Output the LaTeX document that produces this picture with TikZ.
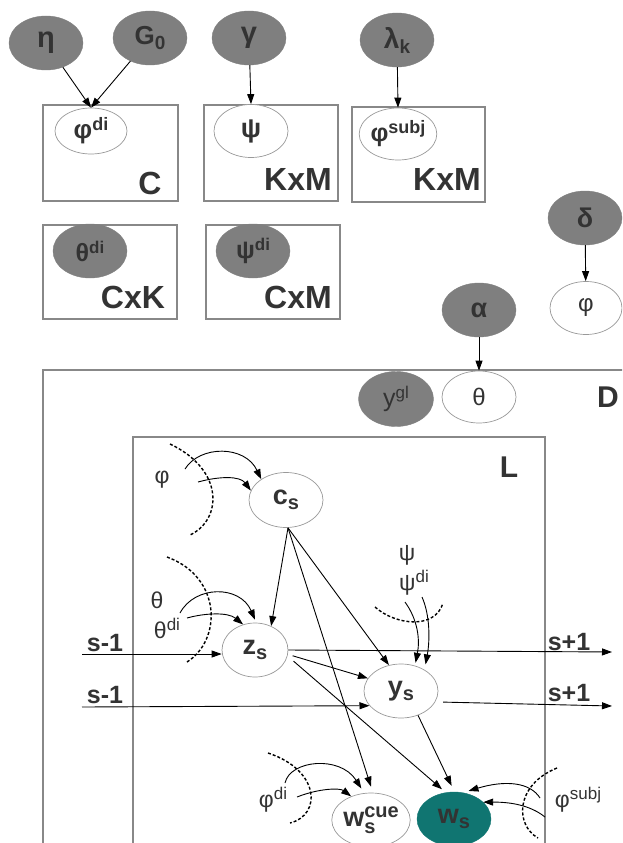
\documentclass[tikz,border=0pt]{standalone}
\usepackage{fontspec}
\setmainfont{Liberation Sans}
\usetikzlibrary{shapes.geometric,arrows.meta}
\definecolor{fillgray}{HTML}{7F7F7F}
\definecolor{txt}{HTML}{333333}
\definecolor{edgec}{HTML}{999999}
\definecolor{boxc}{HTML}{888888}
\definecolor{tealc}{HTML}{107571}
\newcommand\fs[1]{\fontsize{#1}{#1}\selectfont}
\newcommand\Sb[2][19]{\raisebox{-5pt}{\fs{#1}#2}}
\newcommand\Sp[2][17]{\raisebox{8pt}{\fs{#1}#2}}
\begin{document}
\begin{tikzpicture}[x=1pt,y=-1pt,
  hid/.style={ellipse, fill=fillgray, draw=fillgray, text=txt, font=\fs{27}\bfseries,
    minimum width=74pt, minimum height=54pt, inner sep=0pt},
  obs/.style={ellipse, draw=edgec, line width=0.7pt, fill=white, text=txt, font=\fs{25}\bfseries,
    minimum width=74pt, minimum height=54pt, inner sep=0pt},
  plate/.style={draw=boxc, line width=1.2pt},
  platelabel/.style={text=txt, font=\fs{32}\bfseries, inner sep=0pt},
  arr/.style={-{Triangle[length=10pt,width=7pt]}, line width=0.9pt},
  dsh/.style={dash pattern=on 3pt off 2pt, line width=1.4pt},
  lbl/.style={text=txt, font=\fs{23}, inner sep=0pt},
  slab/.style={text=txt, font=\fs{25}\bfseries, inner sep=0pt, anchor=base}
]
\useasboundingbox (0,0) rectangle (622,843);
\clip (0,0) rectangle (622,843);

% plates
\draw[plate] (43,105) rectangle (178,201);
\draw[plate] (204,105) rectangle (338,201);
\draw[plate] (352,107) rectangle (485,202);
\draw[plate] (43,225) rectangle (177,319);
\draw[plate] (206,225) rectangle (340,319);
\draw[plate] (43,370) rectangle (700,900);
\draw[plate] (133,437) rectangle (545,900);
\node[platelabel] (lC) at (150,183) {C};
\node[platelabel] (lK1) at (298,179) {KxM};
\node[platelabel] (lK2) at (447,179) {KxM};
\node[platelabel] (lCK) at (133,297) {CxK};
\node[platelabel] (lCM) at (298,297) {CxM};
\node[platelabel, font=\fs{30}\bfseries] (lD) at (608,397) {D};
\node[platelabel, font=\fs{30}\bfseries] (lL) at (509,467) {L};

% top row
\node[hid, font=\fs{29}\bfseries] (eta) at (46,43) {η};
\node[hid, font=\fs{26}\bfseries] (G0) at (150,38) {G\Sb{0}};
\node[hid, font=\fs{29}\bfseries] (gamma) at (249,38) {γ};
\node[hid, font=\fs{28}\bfseries] (lambda) at (397,40) {λ\Sb{k}};
\node[obs, minimum width=72pt, minimum height=46pt, font=\fs{26}\bfseries] (phidi) at (91,131) {φ\Sp[18]{di}};
\node[obs, minimum height=53pt, font=\fs{27}\bfseries] (psi) at (251,131) {ψ};
\node[obs, minimum width=73pt, minimum height=52pt, font=\fs{25}\bfseries] (phisubj) at (398,134) {φ\Sp[18]{subj}};
\draw[arr] (eta) -- (phidi.north);
\draw[arr] (G0) -- (phidi.north);
\draw[arr] (gamma) -- (psi.north);
\draw[arr] (lambda) -- (phisubj.north);

% second row
\node[hid, font=\fs{25}\bfseries] (thetadi) at (90,251) {θ\Sp{di}};
\node[hid, font=\fs{25}\bfseries] (psidi) at (253,251) {ψ\Sp{di}};
\node[hid] (delta) at (585,218) {δ};
\node[obs, minimum width=72pt, minimum height=53pt, font=\fs{24}] (phi) at (586,308) {φ};
\node[hid] (alpha) at (479,310) {α};
\node[obs, minimum height=52pt, font=\fs{24}] (theta) at (479,397) {θ};
\node[hid, minimum width=75pt, minimum height=55pt, font=\fs{25}] (ygl) at (396,399) {y\Sp{gl}};
\draw[arr] (delta) -- (phi);
\draw[arr] (alpha) -- (theta);

% inner nodes
\node[obs, minimum height=55pt, font=\fs{27}\bfseries] (cs) at (286,500) {c\Sb[20]{s}};
\node[obs, minimum width=66pt, font=\fs{27}\bfseries] (zs) at (255,650) {z\Sb[20]{s}};
\node[obs, font=\fs{27}\bfseries] (ys) at (401,691) {y\Sb[20]{s}};
\node[obs, font=\fs{27}\bfseries] (wcue) at (371,820) {w\rlap{\raisebox{-7pt}{\fs{20}s}}\raisebox{9pt}{\fs{20}cue}};
\node[hid, fill=tealc, draw=tealc, font=\fs{27}\bfseries] (ws) at (454,819) {w\Sb[20]{s}};

% c_s arrows
\coordinate (csb) at ([xshift=2pt]cs.south);
\draw[arr] (csb) -- (zs.56);
\draw[arr] (csb) -- (ys.115);
\draw[arr] (csb) -- ([yshift=6pt]wcue.north);
% z_s arrows
\draw[arr] ([xshift=5pt]zs.-10) -- (ys.159);
\draw[arr] ([xshift=8pt]zs.-20) -- ([yshift=4pt]ws.115);
\draw[arr] (ys.-55) -- ([yshift=6pt]ws.95);

% s-1 / s+1 chains
\coordinate (sma) at (82,654);
\coordinate (smb) at (82,707);
\coordinate (spa) at (612,652);
\coordinate (spb) at (612,706);
\draw[arr] (sma) -- (zs.west |- sma);
\draw[arr] (smb) -- (ys.205);
\draw[arr] (zs.east) -- (spa);
\draw[arr] ([xshift=8pt]ys.-18) -- (spb);
\node[slab] (sm1) at (105,651) {s-1};
\node[slab] (sm2) at (105,703) {s-1};
\node[slab] (sp1) at (569,650) {s+1};
\node[slab] (sp2) at (569,701) {s+1};

% phi -> c_s
\node[lbl] (lphi) at (162,480) {φ};
\draw[dsh] (170,444) .. controls (225,470) and (222,520) .. (190,535);
\draw[arr] (185,469) .. controls (200,445) and (245,445) .. (cs.140);
\draw[arr] (198,482) .. controls (220,476) and (240,476) .. (cs.165);

% theta, theta^di -> z_s
\node[lbl] (ltheta) at (157,600) {θ};
\node[lbl] (lthetadi) at (167,628) {θ\Sp{di}};
\draw[dsh] (167,557) .. controls (222,577) and (222,640) .. (187,662);
\draw[arr] (180,613) .. controls (195,585) and (240,585) .. ([yshift=3pt]zs.north);
\draw[arr] (187,618) .. controls (205,613) and (228,612) .. (zs.115);

% psi, psi^di -> y_s
\node[lbl] (lpsi) at (407,555) {ψ};
\node[lbl] (lpsidi) at (414,583) {ψ\Sp{di}};
\draw[dsh] (375,607) .. controls (395,625) and (435,630) .. (443,603);
\draw[arr] (405,602) .. controls (418,620) and (420,640) .. ([yshift=3pt]ys.60);
\draw[arr] (422,597) .. controls (430,615) and (430,640) .. ([yshift=6pt]ys.40);

% phi^di -> w^cue
\node[lbl] (lphidi) at (273,800) {φ\Sp{di}};
\draw[dsh] (268,753) .. controls (320,770) and (322,815) .. (290,823);
\draw[arr] (285,783) .. controls (290,760) and (340,755) .. ([yshift=5pt]wcue.110);
\draw[arr] (297,797) .. controls (320,788) and (340,788) .. (wcue.130);

% phi^subj -> w_s
\node[lbl] (lphisubj) at (578,800) {φ\Sp{subj}};
\draw[dsh] (557,768) .. controls (515,785) and (515,825) .. (538,838);
\draw[arr] (540,798) .. controls (530,782) and (505,780) .. ([yshift=3pt]ws.60);
\draw[arr] (545,817) .. controls (530,805) and (510,802) .. (ws.30);
\end{tikzpicture}
\end{document}
